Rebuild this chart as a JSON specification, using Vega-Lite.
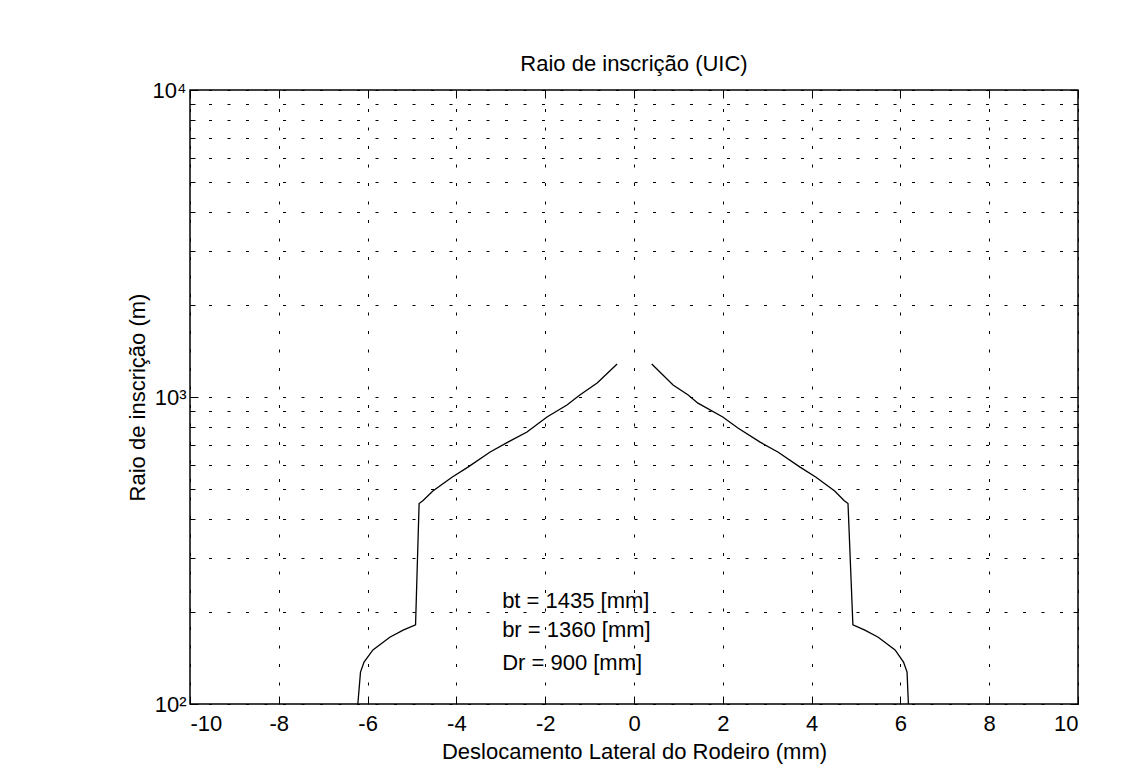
{
  "$schema": "https://vega.github.io/schema/vega-lite/v6.json",
  "width": 888,
  "height": 614,
  "autosize": {"type": "none"},
  "padding": {"left": 190, "top": 90, "right": 70, "bottom": 72},
  "background": "white",
  "config": {
    "view": {"stroke": "black", "strokeWidth": 1.5},
    "font": "Liberation Sans",
    "axis": {
      "labelFont": "Liberation Sans",
      "titleFont": "Liberation Sans",
      "labelFontSize": 22,
      "titleFontSize": 22,
      "titleFontWeight": "normal",
      "labelColor": "black",
      "titleColor": "black",
      "tickColor": "black",
      "tickWidth": 1,
      "domain": false
    }
  },
  "title": {
    "text": "Raio de inscrição (UIC)",
    "fontSize": 22,
    "fontWeight": "normal",
    "font": "Liberation Sans",
    "color": "black",
    "baseline": "alphabetic",
    "offset": -14
  },
  "datasets": {
    "curve": [
      {"side": "esquerda", "order": 1, "x": -6.22, "y": 100},
      {"side": "esquerda", "order": 2, "x": -6.16, "y": 127},
      {"side": "esquerda", "order": 3, "x": -6.08, "y": 137},
      {"side": "esquerda", "order": 4, "x": -5.88, "y": 150},
      {"side": "esquerda", "order": 5, "x": -5.5, "y": 165},
      {"side": "esquerda", "order": 6, "x": -5.2, "y": 174},
      {"side": "esquerda", "order": 7, "x": -4.92, "y": 181},
      {"side": "esquerda", "order": 8, "x": -4.84, "y": 450},
      {"side": "esquerda", "order": 9, "x": -4.75, "y": 460},
      {"side": "esquerda", "order": 10, "x": -4.53, "y": 494},
      {"side": "esquerda", "order": 11, "x": -4.1, "y": 548},
      {"side": "esquerda", "order": 12, "x": -3.74, "y": 591},
      {"side": "esquerda", "order": 13, "x": -3.24, "y": 662},
      {"side": "esquerda", "order": 14, "x": -2.84, "y": 713},
      {"side": "esquerda", "order": 15, "x": -2.41, "y": 769},
      {"side": "esquerda", "order": 16, "x": -1.96, "y": 861},
      {"side": "esquerda", "order": 17, "x": -1.51, "y": 942},
      {"side": "esquerda", "order": 18, "x": -1.22, "y": 1015},
      {"side": "esquerda", "order": 19, "x": -0.83, "y": 1111},
      {"side": "esquerda", "order": 20, "x": -0.38, "y": 1280},
      {"side": "direita", "order": 1, "x": 6.18, "y": 100},
      {"side": "direita", "order": 2, "x": 6.15, "y": 127},
      {"side": "direita", "order": 3, "x": 6.07, "y": 137},
      {"side": "direita", "order": 4, "x": 5.88, "y": 150},
      {"side": "direita", "order": 5, "x": 5.5, "y": 165},
      {"side": "direita", "order": 6, "x": 5.2, "y": 174},
      {"side": "direita", "order": 7, "x": 4.93, "y": 181},
      {"side": "direita", "order": 8, "x": 4.82, "y": 450},
      {"side": "direita", "order": 9, "x": 4.73, "y": 460},
      {"side": "direita", "order": 10, "x": 4.52, "y": 494},
      {"side": "direita", "order": 11, "x": 4.1, "y": 548},
      {"side": "direita", "order": 12, "x": 3.74, "y": 591},
      {"side": "direita", "order": 13, "x": 3.24, "y": 662},
      {"side": "direita", "order": 14, "x": 2.84, "y": 713},
      {"side": "direita", "order": 15, "x": 2.34, "y": 793},
      {"side": "direita", "order": 16, "x": 2.0, "y": 861},
      {"side": "direita", "order": 17, "x": 1.44, "y": 955},
      {"side": "direita", "order": 18, "x": 1.22, "y": 1015},
      {"side": "direita", "order": 19, "x": 0.88, "y": 1094},
      {"side": "direita", "order": 20, "x": 0.4, "y": 1280}
    ],
    "notes": [
      {"x": -2.97, "y": 205, "label": "bt = 1435 [mm]"},
      {"x": -2.97, "y": 165, "label": "br = 1360 [mm]"},
      {"x": -2.97, "y": 129, "label": "Dr = 900 [mm]"}
    ]
  },
  "layer": [
    {
      "data": {"name": "curve"},
      "mark": {"type": "line", "color": "black", "strokeWidth": 1.3, "clip": true},
      "encoding": {
        "x": {
          "field": "x",
          "type": "quantitative",
          "scale": {"domain": [-10, 10], "nice": false, "zero": false},
          "axis": {
            "orient": "bottom",
            "values": [-10, -8, -6, -4, -2, 0, 2, 4, 6, 8, 10],
            "labelExpr": "'' + datum.value",
            "tickSize": -8,
            "labelPadding": 17,
            "grid": true,
            "gridColor": "black",
            "gridDash": [3, 15.5],
            "gridWidth": 1,
            "gridOpacity": 1,
            "title": "Deslocamento Lateral do Rodeiro (mm)",
            "titlePadding": 7
          }
        },
        "y": {
          "field": "y",
          "type": "quantitative",
          "scale": {"type": "log", "domain": [100, 10000], "nice": false},
          "axis": {
            "orient": "left",
            "values": [100, 200, 300, 400, 500, 600, 700, 800, 900, 1000, 2000, 3000, 4000, 5000, 6000, 7000, 8000, 9000, 10000],
            "labelExpr": "datum.value == 100 ? '10²' : datum.value == 1000 ? '10³' : datum.value == 10000 ? '10⁴' : ''",
            "tickSize": {"condition": {"test": "datum.value == 100 || datum.value == 1000 || datum.value == 10000", "value": -8}, "value": -5},
            "labelPadding": 12,
            "grid": true,
            "gridColor": "black",
            "gridDash": [3, 15.5],
            "gridWidth": 1,
            "gridOpacity": 1,
            "title": "Raio de inscrição (m)",
            "titlePadding": 3
          }
        },
        "detail": {"field": "side"},
        "order": {"field": "order", "type": "quantitative"}
      }
    },
    {
      "data": {"name": "notes"},
      "mark": {"type": "text", "align": "left", "baseline": "alphabetic", "fontSize": 22, "font": "Liberation Sans", "color": "black"},
      "encoding": {
        "x": {
          "field": "x",
          "type": "quantitative",
          "axis": {
            "orient": "top",
            "values": [-10, -8, -6, -4, -2, 0, 2, 4, 6, 8, 10],
            "labels": false,
            "title": null,
            "grid": false,
            "tickSize": -8
          }
        },
        "y": {
          "field": "y",
          "type": "quantitative",
          "axis": {
            "orient": "right",
            "values": [100, 200, 300, 400, 500, 600, 700, 800, 900, 1000, 2000, 3000, 4000, 5000, 6000, 7000, 8000, 9000, 10000],
            "labels": false,
            "title": null,
            "grid": false,
            "tickSize": {"condition": {"test": "datum.value == 100 || datum.value == 1000 || datum.value == 10000", "value": -8}, "value": -5}
          }
        },
        "text": {"field": "label"}
      }
    }
  ],
  "resolve": {"axis": {"x": "independent", "y": "independent"}}
}
